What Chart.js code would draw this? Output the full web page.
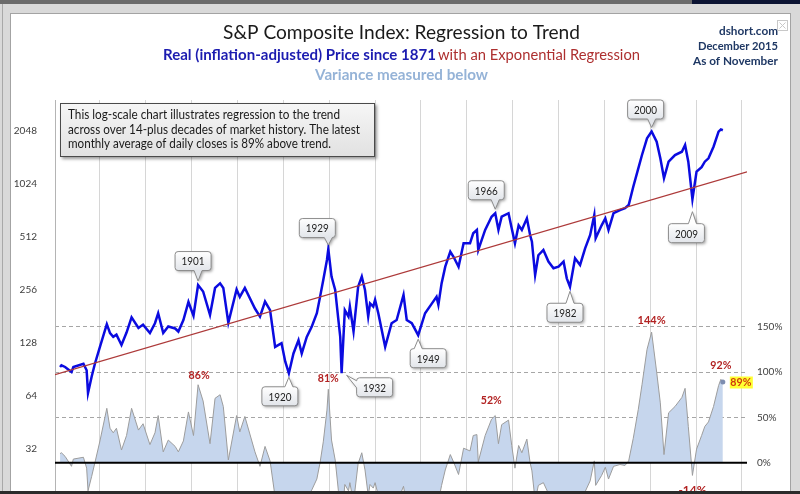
<!DOCTYPE html>
<html>
<head>
<meta charset="utf-8">
<title>S&amp;P Composite Index: Regression to Trend</title>
<script src="https://cdn.jsdelivr.net/npm/chart.js@4.4.1/dist/chart.umd.min.js"></script>
<style>
  html, body { margin: 0; padding: 0; }
  body { width: 800px; height: 494px; overflow: hidden; background: #d9d9d9; position: relative; }
  #topbar { position: absolute; left: 0; top: 0; width: 692px; height: 4px; background: #6b6b6b; }
  #topbar2 { position: absolute; left: 692px; top: 0; width: 108px; height: 4px; background: #0c1433; }
  #edge { position: absolute; left: 2px; top: 4px; width: 1px; height: 490px; background: #a8a8a8; }
  #frame { position: absolute; left: 10px; top: 13px; width: 779px; height: 490px; background: #fff; border: 1px solid #a3a3a3; }
  #chart { position: absolute; left: 0; top: 0; }
  #bottombar { position: absolute; left: 0; top: 491px; width: 800px; height: 3px; background: #2b2b2b; }
</style>
</head>
<body>
<div id="topbar"></div><div id="topbar2"></div>
<div id="edge"></div>
<div id="frame"></div>
<canvas id="chart" width="800" height="510"></canvas>
<div id="bottombar"></div>
<script>
// Real S&P Composite, year as decimal
const years = [
  1871.3, 1871.6, 1872.4, 1873.8, 1874.2, 1876.4, 1877.1, 1877.4, 1878.2, 1878.9,
  1880.0, 1881.5, 1882.2, 1882.9, 1883.6, 1884.7, 1885.8, 1886.9, 1888.4, 1889.4,
  1890.9, 1892.0, 1892.7, 1893.8, 1894.9, 1896.4, 1897.1, 1898.2, 1899.3, 1900.4,
  1901.4, 1902.5, 1904.0, 1905.1, 1906.2, 1906.9, 1908.0, 1909.8, 1910.5, 1911.6,
  1913.8, 1914.9, 1916.0, 1917.1, 1918.2, 1919.6, 1920.4, 1921.2, 1922.2, 1923.3,
  1924.0, 1925.1, 1926.2, 1927.3, 1928.0, 1928.7, 1929.5, 1929.8, 1930.5, 1931.3,
  1932.0, 1932.4, 1932.7, 1933.4, 1934.2, 1934.5, 1935.3, 1936.3, 1937.1, 1937.8,
  1938.5, 1938.9, 1939.6, 1940.0, 1940.7, 1942.2, 1943.6, 1944.7, 1946.2, 1946.9,
  1948.0, 1949.4, 1950.9, 1952.4, 1953.4, 1953.8, 1954.5, 1955.3, 1956.4, 1957.1,
  1958.2, 1959.3, 1960.7, 1961.4, 1962.2, 1962.5, 1964.0, 1965.4, 1966.2, 1966.9,
  1967.6, 1969.1, 1969.8, 1970.5, 1971.3, 1972.0, 1973.1, 1973.8, 1974.2, 1974.9,
  1975.6, 1976.7, 1977.8, 1978.9, 1980.0, 1981.1, 1981.8, 1982.5, 1983.6, 1984.7,
  1985.8, 1986.9, 1987.8, 1988.1, 1989.4, 1990.2, 1990.9, 1992.0, 1993.4, 1994.5,
  1995.3, 1996.3, 1997.4, 1998.2, 1999.3, 2000.3, 2001.4, 2002.2, 2003.0, 2004.0,
  2005.4, 2006.9, 2007.6, 2008.3, 2009.2, 2010.1, 2011.2, 2011.9, 2012.7, 2013.8,
  2014.9, 2015.4, 2015.83
];

const realPrice = [
  93, 95, 93, 87, 93, 97, 89, 66, 82, 97,
  121, 163, 145, 138, 142, 124, 146, 178, 155, 162,
  145, 165, 188, 145, 158, 154, 148, 172, 218, 182,
  272, 250, 184, 262, 278, 262, 166, 257, 233, 262,
  200, 180, 219, 196, 121, 127, 100, 85.6, 111, 132,
  111, 138, 158, 188, 233, 291, 378, 436, 304, 255,
  172, 138, 85.6, 196, 180, 205, 148, 266, 304, 255,
  180, 214, 205, 224, 188, 121, 165, 172, 239, 172,
  165, 141, 188, 214, 233, 210, 278, 346, 421, 394,
  346, 470, 470, 536, 560, 431, 560, 666, 697, 560,
  666, 697, 571, 470, 595, 560, 652, 524, 480, 310,
  402, 431, 370, 339, 346, 370, 297, 266, 386, 354,
  440, 524, 681, 502, 595, 652, 560, 697, 727, 744,
  777, 987, 1256, 1495, 1861, 2035, 1780, 1432, 1102, 1370,
  1495, 1561, 1705, 1370, 838, 1202, 1276, 1370, 1432, 1667,
  2029, 2090, 2068
];

// Percent above / below trend (lower panel)
const variancePct = [
  10, 11, 7, -4, 4, 6, -6, -31, -15, 0,
  24, 60, 38, 33, 38, 14, 30, 60, 36, 43,
  20, 33, 52, 12, 25, 18, 12, 24, 56, 30,
  86, 68, 21, 71, 75, 62, 3, 52, 34, 51,
  12, -4, 18, 2, -38, -37, -51, -59, -47, -38,
  -49, -38, -30, -18, 0, 23, 58, 81, 25, 3,
  -31, -45, -66, -24, -31, -22, -44, -1, 11, -8,
  -36, -24, -28, -22, -36, -60, -46, -45, -26, -47,
  -50, -59, -46, -40, -36, -43, -25, -8, 9, 1,
  -13, 16, 13, 30, 31, 1, 30, 48, 52, 21,
  42, 47, 19, -6, 19, 11, 26, 0, -9, -42,
  -25, -22, -34, -41, -41, -38, -51, -56, -38, -44,
  -32, -20, 2, -25, -14, -5, -18, -4, -2, -3,
  2, 27, 59, 86, 125, 144, 100, 66, 9, 55,
  62, 72, 82, 40, -14, 15, 30, 40, 45, 62,
  85, 92, 89
];

// Exponential regression (straight on the log scale)
const trendYears = [1870.2, 2021.1];
const trendValues = [84, 1200];

// Axis ticks
const priceTicks = [32, 64, 128, 256, 512, 1024, 2048];
const pctTicks = [0, 50, 100, 150];
const decadeTicks = [1880, 1890, 1900, 1910, 1920, 1930, 1940, 1950, 1960, 1970, 1980, 1990, 2000, 2010, 2020];

// Callouts on the price line
const calloutLabels = ["1901", "1920", "1929", "1932", "1949", "1966", "1982", "2000", "2009"];
const calloutYears = [1901.4, 1921.2, 1929.8, 1932.7, 1949.4, 1966.2, 1982.5, 2000.3, 2009.2];
const calloutValues = [272, 85.6, 436, 85.6, 141, 697, 266, 2035, 838];

// Peak labels on the variance panel
const peakYears = [1901.4, 1929.8, 1966.2, 2000.3, 2015.4, 2009.2];
const peakValues = [86, 81, 52, 144, 92, -14];
const latestYear = 2015.83;
const latestValue = 89;

const FONT = "Lato, 'Open Sans', sans-serif";
Chart.defaults.font.family = FONT;

// box centre offsets from the anchor point (px)
const calloutOffsets = [[-5, -24], [-9, 23], [-11, -21], [33, 14], [10, 23], [-9, -23], [-5, 26], [-6, -22], [-6, 34]];
const peakOffsets = [[1, -9], [0, -11], [-4, -15], [0, -12], [0, -14], [0, 15]];

function fitText(ctx, text, x, y, width, align) {
  const w = ctx.measureText(text).width;
  ctx.save();
  ctx.translate(x, y);
  ctx.scale(width / w, 1);
  ctx.textAlign = align;
  ctx.textBaseline = "middle";
  ctx.fillText(text, 0, 0);
  ctx.restore();
}

function calloutPath(ctx, x, y, w, h, r, side, px, tx, ty) {
  ctx.beginPath();
  ctx.moveTo(x + r, y);
  if (side === "top") { ctx.lineTo(px - 4, y); ctx.lineTo(tx, ty); ctx.lineTo(px + 4, y); }
  ctx.lineTo(x + w - r, y);
  ctx.arcTo(x + w, y, x + w, y + r, r);
  ctx.lineTo(x + w, y + h - r);
  ctx.arcTo(x + w, y + h, x + w - r, y + h, r);
  if (side === "bottom") { ctx.lineTo(px + 4, y + h); ctx.lineTo(tx, ty); ctx.lineTo(px - 4, y + h); }
  ctx.lineTo(x + r, y + h);
  ctx.arcTo(x, y + h, x, y + h - r, r);
  if (side === "left") { ctx.lineTo(x, y + 10); ctx.lineTo(tx, ty); ctx.lineTo(x, y + 3); }
  ctx.lineTo(x, y + r);
  ctx.arcTo(x, y, x + r, y, r);
  ctx.closePath();
}

function drawCallouts(chart) {
  const { ctx, scales } = chart;
  const w = 36, h = 19;
  calloutLabels.forEach((label, i) => {
    const ax = scales.x.getPixelForValue(calloutYears[i]);
    const ay = scales.yPrice.getPixelForValue(calloutValues[i]);
    const [dx, dy] = calloutOffsets[i];
    const bx = ax + dx - w / 2, by = ay + dy - h / 2;
    let side, tx = ax, ty;
    if (Math.abs(dx) > w / 2) {
      side = "left"; tx = ax + 5; ty = ay + 2;
    } else if (dy < 0) {
      side = "bottom"; const gap = ay - (by + h); ty = by + h + Math.min(gap - 4, 12);
    } else {
      side = "top"; const gap = by - ay; ty = by - Math.min(gap - 4, 12);
    }
    const px = Math.max(bx + 6, Math.min(bx + w - 6, ax));
    ctx.save();
    const g = ctx.createLinearGradient(0, by, 0, by + h);
    g.addColorStop(0, "#ffffff");
    g.addColorStop(1, "#e2e5ea");
    calloutPath(ctx, bx, by, w, h, 3, side, px, tx, ty);
    ctx.shadowColor = "rgba(0,0,0,0.35)";
    ctx.shadowBlur = 3;
    ctx.shadowOffsetX = 1.5;
    ctx.shadowOffsetY = 1.5;
    ctx.fillStyle = g;
    ctx.fill();
    ctx.shadowColor = "transparent";
    ctx.strokeStyle = "#8c8c8c";
    ctx.lineWidth = 1;
    ctx.stroke();
    ctx.fillStyle = "#222";
    ctx.font = "12px " + FONT;
    fitText(ctx, label, bx + w / 2, by + h / 2 + 0.5, 23, "center");
    ctx.restore();
  });
}

function drawPeakLabels(chart) {
  const { ctx, scales } = chart;
  ctx.save();
  ctx.font = "bold 11px " + FONT;
  ctx.fillStyle = "#b22222";
  peakYears.forEach((yr, i) => {
    const x = scales.x.getPixelForValue(yr) + peakOffsets[i][0];
    const y = scales.yPct.getPixelForValue(peakValues[i]) + peakOffsets[i][1];
    const text = peakValues[i] + "%";
    fitText(ctx, text, x, y, text.length > 3 ? 28 : 21, "center");
  });
  // latest reading, highlighted
  const lx = scales.x.getPixelForValue(latestYear) + 18;
  const ly = scales.yPct.getPixelForValue(latestValue) + 0.5;
  ctx.fillStyle = "#ffff33";
  ctx.fillRect(lx - 11, ly - 6, 23, 12);
  ctx.fillStyle = "#d03c0c";
  fitText(ctx, latestValue + "%", lx, ly, 21, "center");
  ctx.restore();
}

function drawNoteBox(ctx) {
  const x = 60, y = 103, w = 315, h = 54;
  ctx.save();
  const g = ctx.createLinearGradient(0, y, 0, y + h);
  g.addColorStop(0, "#f6f6f6");
  g.addColorStop(1, "#e1e1e1");
  ctx.shadowColor = "rgba(0,0,0,0.4)";
  ctx.shadowBlur = 3;
  ctx.shadowOffsetX = 2;
  ctx.shadowOffsetY = 2;
  ctx.fillStyle = g;
  ctx.fillRect(x, y, w, h);
  ctx.shadowColor = "transparent";
  ctx.strokeStyle = "#4a4a4a";
  ctx.lineWidth = 1;
  ctx.strokeRect(x + 0.5, y + 0.5, w - 1, h - 1);
  ctx.fillStyle = "#1a1a1a";
  ctx.font = "12.5px " + FONT;
  fitText(ctx, "This log-scale chart illustrates regression to the trend", 68, 115, 272, "left");
  fitText(ctx, "across over 14-plus decades of market history. The latest", 68, 129.5, 292, "left");
  fitText(ctx, "monthly average of daily closes is 89% above trend.", 68, 143.5, 263, "left");
  ctx.restore();
}

function drawTitles(ctx) {
  ctx.save();
  ctx.fillStyle = "#1a1a1a";
  ctx.font = "19px " + FONT;
  fitText(ctx, "S&P Composite Index: Regression to Trend", 401.5, 33, 357, "center");
  ctx.fillStyle = "#1c1cb0";
  ctx.font = "bold 14.5px " + FONT;
  fitText(ctx, "Real (inflation-adjusted) Price since 1871", 163, 55, 273, "left");
  ctx.fillStyle = "#ad2f2f";
  ctx.font = "14.5px " + FONT;
  fitText(ctx, "with an Exponential Regression", 438, 55, 202, "left");
  ctx.fillStyle = "#95b3d7";
  ctx.font = "bold 14.5px " + FONT;
  fitText(ctx, "Variance measured below", 401.5, 75, 173, "center");
  ctx.fillStyle = "#1f3864";
  ctx.font = "bold 11.5px " + FONT;
  fitText(ctx, "dshort.com", 778, 31, 59, "right");
  fitText(ctx, "December 2015", 778, 46, 80, "right");
  fitText(ctx, "As of November", 778, 61, 85, "right");
  // small close box in the corner
  ctx.strokeStyle = "#c8c8c8";
  ctx.strokeRect(777.5, 20.5, 10, 10);
  ctx.beginPath();
  ctx.moveTo(779.5, 22.5); ctx.lineTo(785.5, 28.5);
  ctx.moveTo(785.5, 22.5); ctx.lineTo(779.5, 28.5);
  ctx.stroke();
  ctx.restore();
}

const decorPlugin = {
  id: "decor",
  afterDatasetsDraw(chart) {
    const { ctx, chartArea, scales } = chart;
    const y0 = scales.yPct.getPixelForValue(0);
    ctx.save();
    ctx.strokeStyle = "#000";
    ctx.lineWidth = 2;
    ctx.beginPath();
    ctx.moveTo(chartArea.left, y0);
    ctx.lineTo(chartArea.right, y0);
    ctx.stroke();
    ctx.restore();
  },
  afterDraw(chart) {
    drawPeakLabels(chart);
    drawCallouts(chart);
    drawNoteBox(chart.ctx);
    drawTitles(chart.ctx);
  }
};

const pricePoints = years.map((x, i) => ({ x: x, y: realPrice[i] }));
const variancePoints = years.map((x, i) => ({ x: x, y: variancePct[i] }));
const trendPoints = trendYears.map((x, i) => ({ x: x, y: trendValues[i] }));

new Chart(document.getElementById("chart"), {
  type: "line",
  data: {
    datasets: [
      {
        label: "Exponential Regression",
        data: trendPoints,
        yAxisID: "yPrice",
        borderColor: "#ad3a3a",
        borderWidth: 1.2,
        pointRadius: 0,
        order: 1
      },
      {
        label: "Real Price",
        data: pricePoints,
        yAxisID: "yPrice",
        borderColor: "#0b0be0",
        borderWidth: 2.5,
        pointRadius: 0,
        tension: 0,
        order: 2
      },
      {
        label: "Variance",
        data: variancePoints,
        yAxisID: "yPct",
        borderColor: "#9c9c9c",
        borderWidth: 1,
        backgroundColor: "#c6d6ed",
        fill: "origin",
        tension: 0,
        pointRadius: (c) => (c.dataIndex === variancePoints.length - 1 ? 2.5 : 0),
        pointBackgroundColor: "#7d8db0",
        pointBorderWidth: 0,
        order: 3
      }
    ]
  },
  options: {
    responsive: false,
    animation: false,
    layout: { padding: { top: 100, left: 0, right: 0, bottom: 0 } },
    plugins: {
      legend: { display: false },
      tooltip: { enabled: false }
    },
    scales: {
      x: {
        type: "linear",
        min: 1870.2,
        max: 2021.1,
        ticks: { display: false },
        grid: { color: "#d6d6d6", lineWidth: 1, drawTicks: false },
        border: { display: false },
        afterBuildTicks: (s) => { s.ticks = decadeTicks.map((v) => ({ value: v })); },
        afterFit: (s) => { s.height = 0; }
      },
      yPrice: {
        type: "logarithmic",
        position: "left",
        min: 17.6,
        max: 3074,
        grid: { display: false },
        border: { color: "#b4b4b4", width: 1 },
        ticks: {
          color: "#404040",
          font: { size: 10 },
          padding: 10,
          callback: (v) => String(v)
        },
        afterBuildTicks: (s) => { s.ticks = priceTicks.map((v) => ({ value: v })); },
        afterFit: (s) => { s.width = 55; }
      },
      yPct: {
        type: "linear",
        position: "right",
        min: -34.5,
        max: 400,
        grid: {
          color: (c) => (c.tick && c.tick.value === 0 ? "transparent" : "#a6a6a6"),
          lineWidth: 1,
          drawTicks: false
        },
        border: { display: false, dash: [4, 3] },
        ticks: {
          color: "#404040",
          font: { size: 10 },
          padding: 10,
          callback: (v) => v + "%"
        },
        afterBuildTicks: (s) => { s.ticks = pctTicks.map((v) => ({ value: v })); },
        afterFit: (s) => { s.width = 53; }
      }
    }
  },
  plugins: [decorPlugin]
});
</script>
</body>
</html>
